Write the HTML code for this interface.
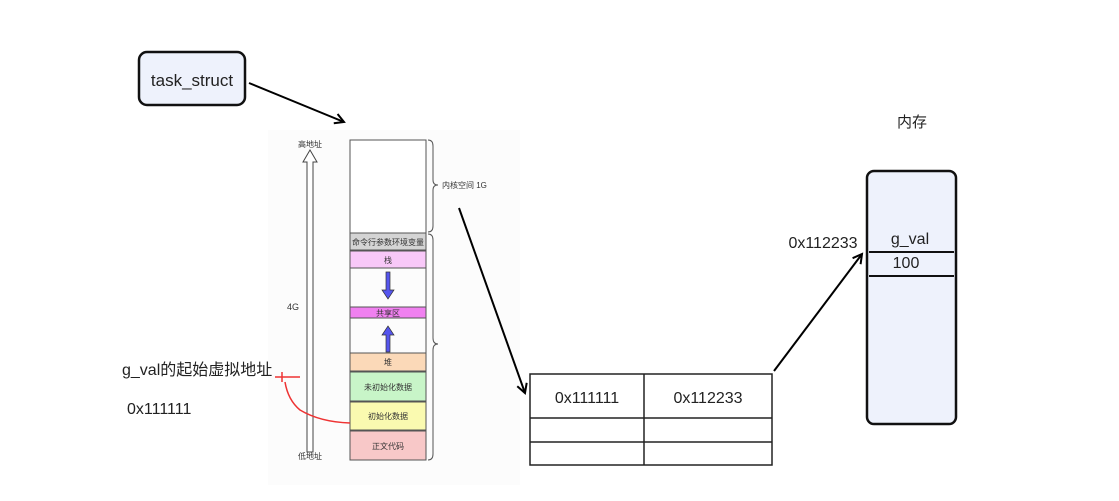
<!DOCTYPE html>
<html><head><meta charset="utf-8"><style>
body{margin:0;width:1119px;height:496px;background:#fff;overflow:hidden;font-family:"Liberation Sans","Noto Sans CJK SC",sans-serif}
</style></head><body>
<svg width="1119" height="496" xmlns="http://www.w3.org/2000/svg" font-family="Liberation Sans, Noto Sans CJK SC, sans-serif">
<defs><marker id="a" markerWidth="12" markerHeight="12" refX="10" refY="6" orient="auto" markerUnits="userSpaceOnUse"><path d="M1,1 L10,6 L1,11" fill="none" stroke="#000" stroke-width="2"/></marker></defs>
<rect x="268" y="130" width="252" height="355" fill="#fcfcfc"/>
<rect x="139" y="52" width="106" height="53" rx="8" fill="#eef2fc" stroke="#111" stroke-width="2.5"/>
<text x="192" y="86" font-size="17" text-anchor="middle" fill="#222">task_struct</text>
<line x1="249" y1="83" x2="344" y2="122" stroke="#000" stroke-width="2" marker-end="url(#a)"/>
<path d="M307,452 V162 H303 L310,150 L317,162 H313 V452 Z" fill="#fff" stroke="#444" stroke-width="1"/>
<text x="310" y="147" font-size="8" text-anchor="middle" fill="#333">高地址</text>
<text x="310" y="459" font-size="8" text-anchor="middle" fill="#333">低地址</text>
<text x="293" y="310" font-size="9" text-anchor="middle" fill="#333">4G</text>
<g stroke="#555" stroke-width="1" font-size="8" text-anchor="middle" fill="#333">
<rect x="350" y="140" width="76" height="93" fill="#fff"/>
<rect x="350" y="233" width="76" height="17" fill="#d4d4d4"/>
<rect x="350" y="251" width="76" height="17" fill="#f8c8f8"/>
<rect x="350" y="307" width="76" height="11" fill="#f080f0"/>
<rect x="350" y="353" width="76" height="18" fill="#fbd9b8"/>
<rect x="350" y="372" width="76" height="29" fill="#c8f5c8"/>
<rect x="350" y="402" width="76" height="28" fill="#fafab0"/>
<rect x="350" y="431" width="76" height="29" fill="#f8c8c8"/>
<line x1="350" y1="268" x2="350" y2="353"/><line x1="426" y1="268" x2="426" y2="353"/>
</g>
<g font-size="8" text-anchor="middle" fill="#333">
<text x="388" y="245">命令行参数环境变量</text><text x="388" y="263">栈</text><text x="388" y="316">共享区</text>
<text x="388" y="365">堆</text><text x="388" y="390">未初始化数据</text><text x="388" y="419">初始化数据</text><text x="388" y="449">正文代码</text>
</g>
<path d="M386,272 V290 H382 L388,299 L394,290 H390 V272 Z" fill="#5555ee" stroke="#333" stroke-width="0.7"/>
<path d="M386,352 V335 H382 L388,326 L394,335 H390 V352 Z" fill="#5555ee" stroke="#333" stroke-width="0.7"/>
<path d="M428,140 Q433,140 433,146 V180 Q433,185 438,185 Q433,185 433,190 V226 Q433,232 428,232" fill="none" stroke="#555"/>
<path d="M428,234 Q433,234 433,240 V338 Q433,344 438,344 Q433,344 433,350 V454 Q433,460 428,460" fill="none" stroke="#555"/>
<text x="442" y="188" font-size="8" fill="#333">内核空间 1G</text>
<line x1="459" y1="208" x2="525" y2="393" stroke="#000" stroke-width="2" marker-end="url(#a)"/>
<text x="122" y="375" font-size="16" fill="#222">g_val的起始虚拟地址</text>
<text x="127" y="414" font-size="16" fill="#222">0x111111</text>
<path d="M275,377 H300 M282,372 V382" stroke="#e33" stroke-width="1.5" fill="none"/>
<path d="M285,382 Q288,400 300,410 Q320,422 350,423" stroke="#e33" stroke-width="1.5" fill="none"/>
<g stroke="#222" stroke-width="1.5" fill="none">
<rect x="530" y="374" width="242" height="91"/>
<line x1="530" y1="418" x2="772" y2="418"/><line x1="530" y1="442" x2="772" y2="442"/>
<line x1="644" y1="374" x2="644" y2="465"/>
</g>
<text x="587" y="403" font-size="16" text-anchor="middle" fill="#222">0x111111</text>
<text x="708" y="403" font-size="16" text-anchor="middle" fill="#222">0x112233</text>
<line x1="774" y1="371" x2="862" y2="254" stroke="#000" stroke-width="2" marker-end="url(#a)"/>
<text x="912" y="127" font-size="15" text-anchor="middle" fill="#222">内存</text>
<rect x="867" y="171" width="89" height="253" rx="7" fill="#eef2fc" stroke="#111" stroke-width="2.5"/>
<line x1="869" y1="252" x2="954" y2="252" stroke="#111" stroke-width="2"/>
<line x1="869" y1="276" x2="954" y2="276" stroke="#111" stroke-width="2"/>
<text x="910" y="244" font-size="16" text-anchor="middle" fill="#222">g_val</text>
<text x="906" y="268" font-size="16" text-anchor="middle" fill="#222">100</text>
<text x="823" y="248" font-size="16" text-anchor="middle" fill="#222">0x112233</text>
</svg>
</body></html>
